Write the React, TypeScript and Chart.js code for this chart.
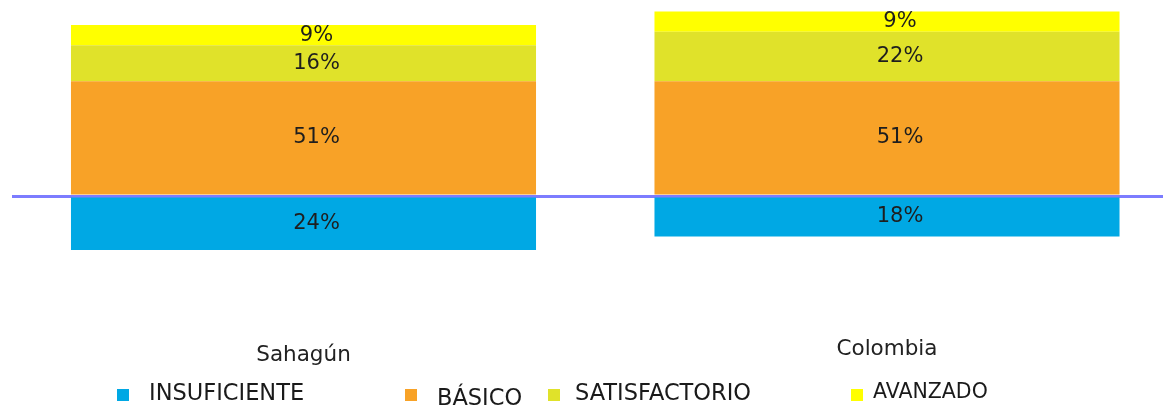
import React, { useEffect, useRef } from "react";
import { Chart, registerables } from "chart.js";

Chart.register(...registerables);

// ---- data ----
const CATEGORIES = ["Sahagún", "Colombia"];
const SERIES_NAMES = ["INSUFICIENTE", "BÁSICO", "SATISFACTORIO", "AVANZADO"];
const INSUFICIENTE = [24, 18];
const BASICO = [51, 51];
const SATISFACTORIO = [16, 22];
const AVANZADO = [9, 9];
const COLORS = ["#00A8E4", "#F8A227", "#E0E22A", "#FFFF00"];

const FONT = "'DejaVu Sans', Verdana, sans-serif";

// legend layout (pixels)
const LEGEND_LAYOUT = [
  { box: 117, text: 149, textY: 392, size: 22.5 },
  { box: 405, text: 437, textY: 397, size: 22.5 },
  { box: 548, text: 575, textY: 392, size: 22.5 },
  { box: 851, text: 873, textY: 391, size: 20.5 },
];

const barLabels = {
  id: "barLabels",
  afterDatasetsDraw(chart: any) {
    const ctx = chart.ctx;
    ctx.save();
    ctx.font = `21px ${FONT}`;
    ctx.fillStyle = "#1e1e1e";
    ctx.textAlign = "center";
    ctx.textBaseline = "middle";
    chart.data.datasets.forEach((ds: any, di: number) => {
      const meta = chart.getDatasetMeta(di);
      meta.data.forEach((el: any, i: number) => {
        const { x, y, base } = el.getProps(["x", "y", "base"], true);
        const v = Math.abs(ds.data[i]);
        ctx.fillText(v + "%", x + 13, (y + base) / 2);
      });
    });
    ctx.restore();
  },
};

export default function App() {
  const ref = useRef<HTMLCanvasElement | null>(null);

  useEffect(() => {
    if (!ref.current) return;
    const seriesData = [
      INSUFICIENTE.map((v) => -v),
      BASICO,
      SATISFACTORIO,
      AVANZADO,
    ];
    const chart = new Chart(ref.current, {
      type: "bar",
      data: {
        labels: CATEGORIES,
        datasets: SERIES_NAMES.map((name, i) => ({
          label: name,
          data: seriesData[i],
          backgroundColor: COLORS[i],
          borderWidth: 0,
          categoryPercentage: 1,
          barPercentage: 0.797,
        })),
      },
      options: {
        animation: false,
        responsive: false,
        maintainAspectRatio: false,
        layout: { padding: { left: 11.75, right: 1.25, top: 4.75, bottom: 0 } },
        plugins: {
          legend: { display: false },
          tooltip: { enabled: false },
          title: { display: false },
        },
        scales: {
          x: {
            stacked: true,
            grid: { display: false, drawTicks: false },
            border: { display: false },
            ticks: {
              padding: 32.5,
              color: "#222222",
              font: (c: any) => ({
                family: FONT,
                size: 21.5,
                lineHeight: c.index === 0 ? "37px" : "25px",
              }),
            },
          },
          y: {
            stacked: true,
            min: -48,
            max: 85,
            z: 1,
            border: { display: false },
            ticks: { display: false, stepSize: 12 },
            grid: {
              drawTicks: false,
              lineWidth: 3,
              color: (c: any) =>
                c.tick && c.tick.value === 0 ? "rgba(80,80,255,0.75)" : "rgba(0,0,0,0)",
            },
          },
        },
      },
      plugins: [barLabels],
    });
    return () => chart.destroy();
  }, []);

  return (
    <div
      style={{
        position: "absolute",
        left: 0,
        top: 0,
        width: 1163,
        height: 406,
        overflow: "hidden",
        background: "#ffffff",
      }}
    >
      <canvas
        ref={ref}
        width={1180}
        height={406}
        style={{ position: "absolute", left: 0, top: 0, width: 1180, height: 406 }}
      />
      {SERIES_NAMES.map((name, i) => (
        <React.Fragment key={name}>
          <div
            style={{
              position: "absolute",
              left: LEGEND_LAYOUT[i].box,
              top: 389,
              width: 12,
              height: 12,
              background: COLORS[i],
            }}
          />
          <div
            style={{
              position: "absolute",
              left: LEGEND_LAYOUT[i].text,
              top: LEGEND_LAYOUT[i].textY - 12,
              height: 24,
              lineHeight: "24px",
              fontFamily: FONT,
              fontSize: LEGEND_LAYOUT[i].size,
              color: "#1a1a1a",
              whiteSpace: "nowrap",
            }}
          >
            {name}
          </div>
        </React.Fragment>
      ))}
    </div>
  );
}
